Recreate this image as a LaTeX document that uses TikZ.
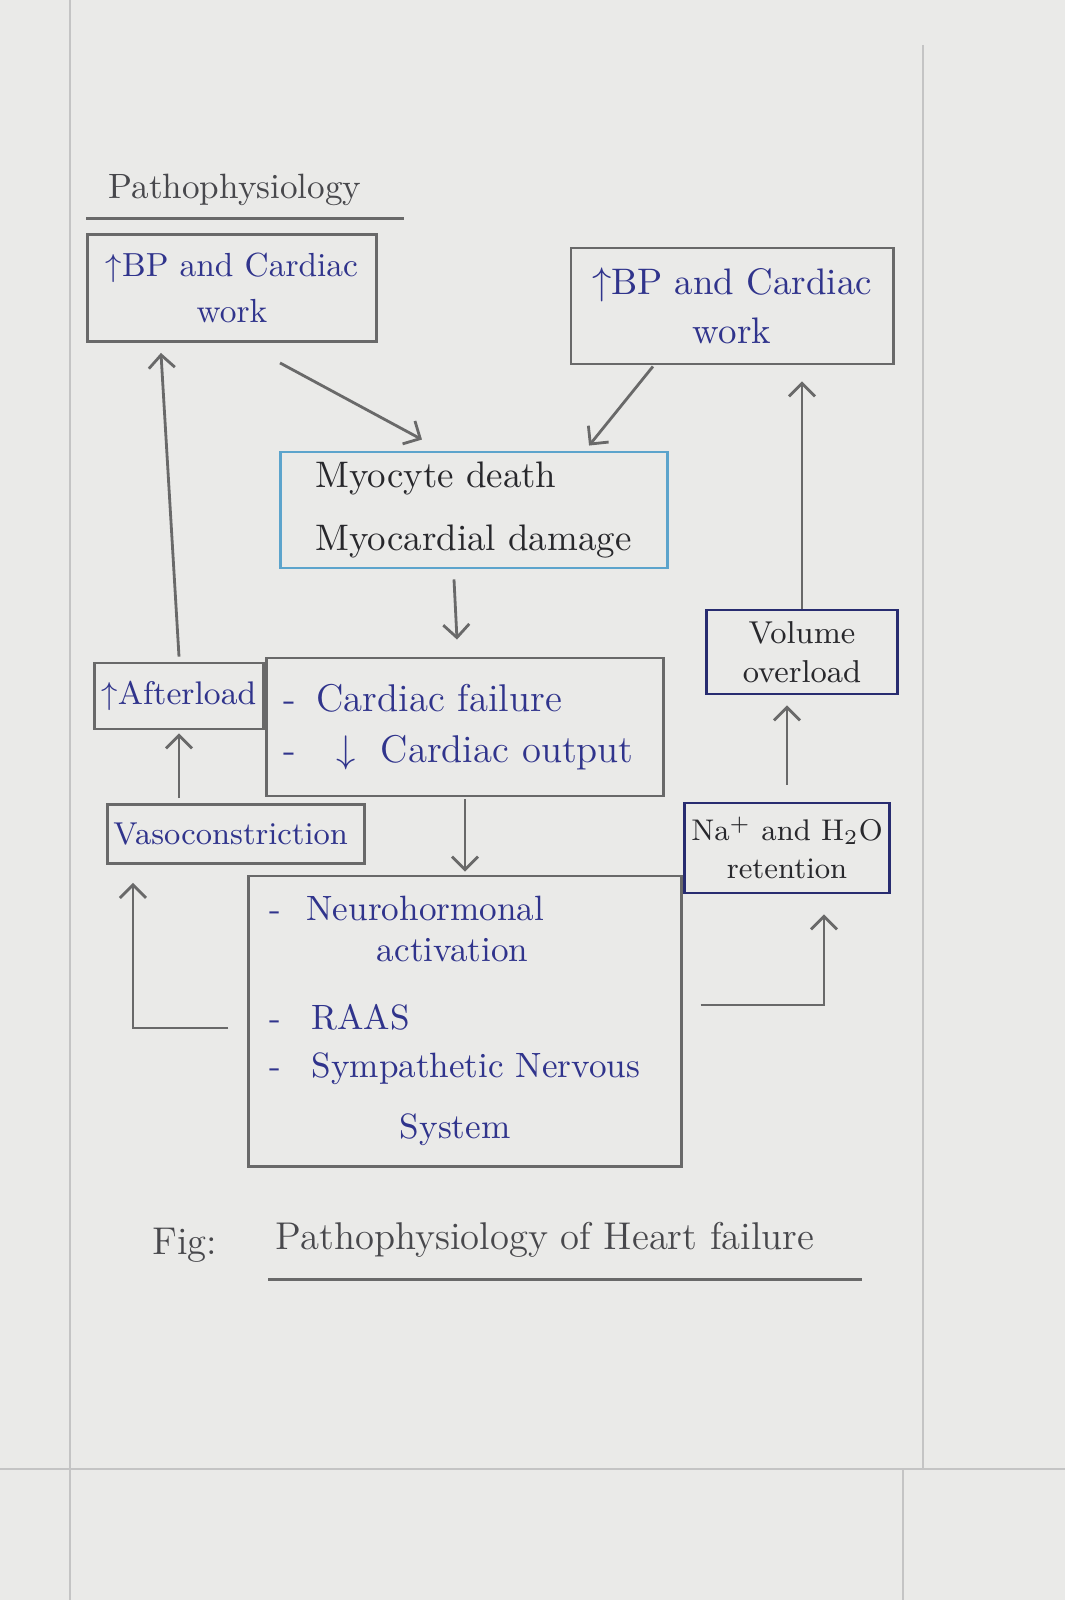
\documentclass[tikz,border=0pt]{standalone}
\usepackage{tikz}
\usetikzlibrary{arrows.meta,positioning,calc}
\definecolor{inkblue}{RGB}{48,52,140}
\definecolor{inkblack}{RGB}{40,40,44}
\definecolor{pencilgray}{RGB}{105,105,105}
\definecolor{paperbg}{RGB}{234,234,232}
\definecolor{ruleline}{RGB}{196,196,196}
\definecolor{softcyan}{RGB}{92,164,204}
\definecolor{navyline}{RGB}{40,44,112}

\begin{document}
\begin{tikzpicture}[x=0.01cm,y=-0.01cm,
    box/.style={draw=pencilgray,thick,align=center,inner sep=2pt,text=inkblue,
      font=\fontsize{10}{13}\selectfont},
    listbox/.style={box,align=left},
    inkbox/.style={box,draw=navyline,text=inkblack},
    arr/.style={-{Straight Barb[length=1.3mm,width=2.6mm]},pencilgray,thick},
    pencil/.style={pencilgray,thick}
  ]
    % paper
    \fill[paperbg] (0,0) rectangle (1065,1600);
    \useasboundingbox (0,0) rectangle (1065,1600);
    \draw[ruleline] (70,0) -- (70,1600);
    \draw[ruleline] (923,45) -- (923,1469);
    \draw[ruleline] (0,1469) -- (1065,1469);
    \draw[ruleline] (903,1469) -- (903,1600);

    \node[text=inkblack!85,font=\fontsize{10}{12}\selectfont] (title) at (235,190) {Pathophysiology};
    \draw[pencil] ([shift={(-0.1cm,-0.2cm)}]title.base west) -- ([shift={(0.3cm,-0.2cm)}]title.base east);

    \node[box,font=\fontsize{9.5}{13}\selectfont,minimum width=2.89cm,minimum height=1.07cm] (bpL) at (232,288) {$\uparrow$BP and Cardiac\\work};
    \node[box,font=\fontsize{10.5}{14}\selectfont,minimum width=3.22cm,minimum height=1.16cm] (bpR) at (732,306) {$\uparrow$BP and Cardiac\\work};
    \node[listbox,draw=softcyan,text=inkblack,font=\fontsize{10.5}{18}\selectfont,
      text width=3.17cm,inner xsep=0.35cm,minimum height=1.16cm] (myo) at (474,510) {Myocyte death\\Myocardial damage};
    \node[listbox,font=\fontsize{11}{14.5}\selectfont,text width=3.62cm,inner xsep=0.17cm,
      minimum height=1.38cm] (fail) at (465,727) {-\hspace{0.2cm}Cardiac failure\\-\hspace{0.4cm}$\downarrow$\hspace{0.25cm}Cardiac output};
    \node[box,font=\fontsize{9.3}{11}\selectfont,minimum width=1.62cm,minimum height=0.66cm] (after) at (179,696) {$\uparrow$Afterload};
    \node[listbox,font=\fontsize{9}{11}\selectfont,text width=2.45cm,inner xsep=0.06cm,
      minimum height=0.59cm] (vaso) at (236,834) {Vasoconstriction};
    \node[listbox,font=\fontsize{10}{11.5}\selectfont,text width=3.9cm,inner xsep=0.21cm,
      minimum height=2.9cm] (neuro) at (465,1021) {-\hspace{0.25cm}Neurohormonal\\
      \hspace{1.07cm}activation\\[8pt]
      -\hspace{0.3cm}RAAS\\[2pt]
      -\hspace{0.3cm}\mbox{Sympathetic Nervous}\\[6pt]
      \hspace{1.3cm}System};
    \node[inkbox,font=\fontsize{8.5}{11}\selectfont,minimum width=1.91cm,minimum height=0.9cm] (na) at (787,848) {Na$^{+}$ and H$_{2}$O\\retention};
    \node[inkbox,font=\fontsize{9}{11}\selectfont,minimum width=1.91cm,minimum height=0.84cm] (vol) at (802,652) {Volume\\overload};

    \node[text=inkblack!85,font=\fontsize{11}{13}\selectfont] (figlbl) at (185,1245) {Fig:};
    \node[text=inkblack!85,font=\fontsize{11}{13}\selectfont] (caption) at (545,1240) {Pathophysiology of Heart failure};
    \draw[pencil] ([shift={(0.05cm,-0.3cm)}]caption.base west) -- ([shift={(0.35cm,-0.3cm)}]caption.base east);

    \draw[arr] ([xshift=0.48cm,yshift=-0.2cm]bpL.south) -- ([xshift=-0.52cm,yshift=0.11cm]myo.north);
    \draw[arr] ([xshift=-0.79cm,yshift=-0.01cm]bpR.south) -- ([xshift=1.15cm,yshift=0.05cm]myo.north);
    \draw[arr] ([xshift=-0.2cm,yshift=-0.1cm]myo.south) -- ([xshift=-0.08cm,yshift=0.17cm]fail.north);
    \draw[arr,shorten <=0.02cm,shorten >=0.03cm] (fail) -- (neuro);
    \draw[arr] ([yshift=0.05cm]after.north) -- ([xshift=-0.71cm,yshift=-0.1cm]bpL.south);
    \draw[arr,shorten <=0.05cm,shorten >=0.03cm] (after.south |- vaso.north) -- (after.south);
    \draw[arr,shorten >=0.18cm] ([shift={(-0.19cm,-0.07cm)}]neuro.west) -| ([xshift=-1.03cm]vaso.south);
    \draw[arr,shorten >=0.2cm] ([shift={(0.18cm,0.16cm)}]neuro.east) -| ([xshift=0.37cm]na.south);
    \draw[arr,shorten <=0.17cm,shorten >=0.1cm] (na.north) -- (na.north |- vol.south);
    \draw[arr,shorten >=0.16cm] (vol.north) -- (vol.north |- bpR.south);
\end{tikzpicture}
\end{document}
